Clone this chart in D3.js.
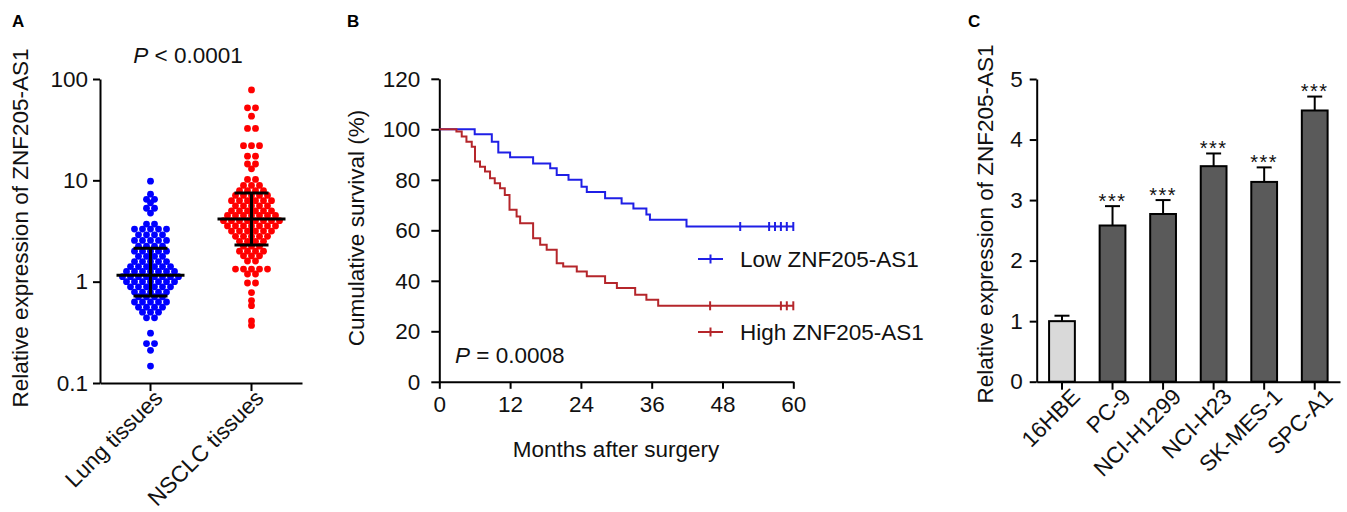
<!DOCTYPE html>
<html>
<head>
<meta charset="utf-8">
<script src="https://cdn.jsdelivr.net/npm/d3@7"></script>
<style>
  html, body { margin: 0; padding: 0; background: #fff; }
  svg { display: block; font-family: Arial, "Liberation Sans", sans-serif; }
  .axis path, .axis line { stroke: #000; stroke-width: 2; }
  .axis text { font-size: 22.5px; fill: #111; }
</style>
</head>
<body>
<svg id="chart" width="1347" height="512"></svg>
<script>
// ---------- Panel A data (relative expression, log scale) ----------
const groupsA = ["Lung tissues", "NSCLC tissues"];
const lungValues = [
  9.8, 7.3, 6.5, 6.5, 6.0, 5.3, 5.3, 4.75, 3.7, 3.7,
  3.3, 3.3, 3.3, 3.3, 3.3, 2.9, 2.9, 2.9, 2.9,
  2.55, 2.55, 2.55, 2.55, 2.55, 2.24, 2.24, 2.24, 2.24,
  2.0, 2.0, 2.0, 2.0, 2.0, 1.78, 1.78, 1.78, 1.78,
  1.58, 1.58, 1.58, 1.58, 1.58, 1.41, 1.41, 1.41, 1.41, 1.41, 1.41,
  1.26, 1.26, 1.26, 1.26, 1.26, 1.26, 1.26,
  1.12, 1.12, 1.12, 1.12, 1.12, 1.12, 1.12, 1.12,
  1.0, 1.0, 1.0, 1.0, 1.0, 1.0, 1.0,
  0.89, 0.89, 0.89, 0.89, 0.89, 0.89, 0.79, 0.79, 0.79, 0.79, 0.79,
  0.71, 0.71, 0.71, 0.71, 0.63, 0.63, 0.63, 0.63, 0.63,
  0.56, 0.56, 0.56, 0.56, 0.50, 0.50, 0.50, 0.44, 0.44,
  0.31, 0.245, 0.245, 0.21, 0.147
];
const nsclcValues = [
  78, 52, 52, 43, 32.5, 32.5, 22, 22, 22, 17.3, 17.3, 14.5, 14.5, 13.0, 10.2, 10.2,
  8.9, 8.9, 8.9, 7.9, 7.9, 7.9, 7.9, 7.1, 7.1, 7.1, 7.1, 7.1,
  6.3, 6.3, 6.3, 6.3, 6.3, 6.3, 5.6, 5.6, 5.6, 5.6, 5.6,
  5.0, 5.0, 5.0, 5.0, 5.0, 5.0, 4.5, 4.5, 4.5, 4.5, 4.5, 4.5, 4.5,
  4.0, 4.0, 4.0, 4.0, 4.0, 4.0, 4.0, 4.0,
  3.55, 3.55, 3.55, 3.55, 3.55, 3.55, 3.55, 3.16, 3.16, 3.16, 3.16, 3.16, 3.16,
  2.8, 2.8, 2.8, 2.8, 2.8, 2.5, 2.5, 2.5, 2.5, 2.24, 2.24, 2.24,
  2.0, 2.0, 2.0, 2.0, 1.8, 1.8, 1.8, 1.6, 1.6,
  1.33, 1.33, 1.33, 1.33, 1.33, 1.19, 1.19,
  0.97, 0.97, 0.78, 0.65, 0.58, 0.41, 0.37
];
// [lower quartile, median, upper quartile]
const lungStats = [0.72, 1.16, 2.14];
const nsclcStats = [2.3, 4.15, 7.5];
const ticksA = [0.1, 1, 10, 100];

// ---------- Panel B data (Kaplan-Meier) ----------
const lowMonths = [0, 6.0, 8.9, 10.0, 12.0, 15.9, 18.8, 19.9, 21.9, 24.1, 25.0, 28.1, 30.9, 32.9, 35.1, 35.7, 41.9, 60];
const lowSurv   = [100, 98.0, 95.1, 90.8, 88.9, 86.5, 84.6, 81.9, 80.0, 77.2, 75.2, 72.7, 70.6, 68.6, 66.3, 64.2, 61.5, 61.5];
const lowCensor = [51.0, 55.9, 56.9, 57.9, 58.9, 60];
const highMonths = [0, 2.9, 3.8, 4.6, 5.5, 6.05, 6.9, 7.75, 8.6, 9.4, 10.3, 11.1, 11.9, 13.1, 13.7, 15.9, 17.1, 18.2, 19.9, 21.0, 23.3, 25.0, 28.1, 30.1, 33.2, 35.1, 37.1, 60];
const highSurv   = [100, 99.1, 97.1, 95.1, 93.1, 87.2, 85.2, 83.3, 80.6, 78.6, 76.7, 74.0, 68.1, 65.5, 62.8, 56.9, 54.3, 52.3, 47.0, 45.7, 43.7, 41.8, 39.1, 37.1, 34.5, 32.5, 30.1, 30.1];
const highCensor = [45.9, 57.9, 58.9, 60];
const monthTicks = [0, 12, 24, 36, 48, 60];
const survTicks = [0, 20, 40, 60, 80, 100, 120];
const seriesNamesB = ["Low ZNF205-AS1", "High ZNF205-AS1"];

// ---------- Panel C data ----------
const cellLines = ["16HBE", "PC-9", "NCI-H1299", "NCI-H23", "SK-MES-1", "SPC-A1"];
const cellExpr  = [1.0, 2.58, 2.77, 3.56, 3.30, 4.48];
const cellErr   = [0.09, 0.32, 0.23, 0.21, 0.24, 0.23];
const cellSig   = ["", "***", "***", "***", "***", "***"];
const ticksC = [0, 1, 2, 3, 4, 5];

const svg = d3.select("#chart");
svg.append("rect").attr("width", 1347).attr("height", 512).attr("fill", "#fff");

function panelLabel(t, x, y) {
  svg.append("text").attr("x", x).attr("y", y).text(t)
    .attr("font-size", 17).attr("font-weight", "bold").attr("fill", "#000");
}
function yTitle(t, x, y) {
  svg.append("text").attr("transform", `translate(${x},${y}) rotate(-90)`)
    .attr("text-anchor", "middle").attr("font-size", 22.5).attr("fill", "#111").text(t);
}

// ================= Panel A =================
panelLabel("A", 12, 27);
const yA = d3.scaleLog().domain([0.1, 100]).range([383, 79]);
const xA = d3.scaleBand().domain(groupsA).range([100, 302]).padding(0);

const gA = svg.append("g");
gA.append("g").attr("class", "axis").attr("transform", "translate(100,0)")
  .call(d3.axisLeft(yA).tickValues(ticksA).tickFormat(d3.format("")).tickSize(7).tickPadding(5).tickSizeOuter(0));
const axA = gA.append("g").attr("class", "axis").attr("transform", "translate(0,383)")
  .call(d3.axisBottom(xA).tickSize(8).tickSizeOuter(0));
axA.selectAll("text")
  .attr("text-anchor", "end")
  .attr("transform", "translate(2,5) rotate(-45)")
  .attr("dy", "0.72em").attr("y", 0).attr("x", 0)
  .attr("font-size", 24);

function swarm(values, cx) {
  const pts = [];
  d3.groups(values, v => v).forEach(([v, arr]) => {
    const n = arr.length;
    arr.forEach((_, i) => pts.push({ v, x: cx + (i - (n - 1) / 2) * 8 }));
  });
  return pts;
}
const colorsA = ["#0000ff", "#ff0000"];
[lungValues, nsclcValues].forEach((vals, gi) => {
  const cx = xA(groupsA[gi]) + xA.bandwidth() / 2;
  gA.append("g").selectAll("circle").data(swarm(vals, cx)).join("circle")
    .attr("cx", d => d.x).attr("cy", d => yA(d.v)).attr("r", 3.4)
    .attr("fill", colorsA[gi]);
});
[lungStats, nsclcStats].forEach((st, gi) => {
  const cx = xA(groupsA[gi]) + xA.bandwidth() / 2;
  const g = gA.append("g").attr("stroke", "#000").attr("stroke-width", 3);
  g.append("line").attr("x1", cx - 34).attr("x2", cx + 34).attr("y1", yA(st[1])).attr("y2", yA(st[1]));
  g.append("line").attr("x1", cx).attr("x2", cx).attr("y1", yA(st[0])).attr("y2", yA(st[2]));
  g.append("line").attr("x1", cx - 17).attr("x2", cx + 17).attr("y1", yA(st[0])).attr("y2", yA(st[0]));
  g.append("line").attr("x1", cx - 17).attr("x2", cx + 17).attr("y1", yA(st[2])).attr("y2", yA(st[2]));
});
const pA = svg.append("text").attr("x", 188).attr("y", 63).attr("text-anchor", "middle")
  .attr("font-size", 22.5).attr("fill", "#111");
pA.append("tspan").attr("font-style", "italic").text("P");
pA.append("tspan").text(" < 0.0001");
yTitle("Relative expression of ZNF205-AS1", 28, 228);

// ================= Panel B =================
panelLabel("B", 347, 27);
const xB = d3.scaleLinear().domain([0, 60]).range([439.3, 793.3]);
const yB = d3.scaleLinear().domain([0, 120]).range([381.8, 78.8]);
const gB = svg.append("g");
gB.append("g").attr("class", "axis").attr("transform", "translate(439.3,0)")
  .call(d3.axisLeft(yB).tickValues(survTicks).tickSize(8).tickPadding(11).tickSizeOuter(0));
gB.append("g").attr("class", "axis").attr("transform", "translate(0,381.8)")
  .call(d3.axisBottom(xB).tickValues(monthTicks).tickSize(7).tickPadding(7).tickSizeOuter(0));

const lineB = d3.line().x(d => xB(d[0])).y(d => yB(d[1])).curve(d3.curveStepAfter);
const kmSeries = [
  { months: lowMonths, surv: lowSurv, censor: lowCensor, color: "#1f1fe6" },
  { months: highMonths, surv: highSurv, censor: highCensor, color: "#b5262b" }
];
kmSeries.forEach(s => {
  const pts = s.months.map((m, i) => [m, s.surv[i]]);
  gB.append("path").attr("d", lineB(pts)).attr("fill", "none")
    .attr("stroke", s.color).attr("stroke-width", 2);
  const lastS = s.surv[s.surv.length - 1];
  gB.append("g").selectAll("line").data(s.censor).join("line")
    .attr("x1", d => xB(d)).attr("x2", d => xB(d))
    .attr("y1", yB(lastS) - 4.5).attr("y2", yB(lastS) + 4.5)
    .attr("stroke", s.color).attr("stroke-width", 2);
});
// legend
[259, 332].forEach((ly, i) => {
  const s = kmSeries[i];
  gB.append("line").attr("x1", 698).attr("x2", 723).attr("y1", ly).attr("y2", ly)
    .attr("stroke", s.color).attr("stroke-width", 2);
  gB.append("line").attr("x1", 710.5).attr("x2", 710.5).attr("y1", ly - 4.5).attr("y2", ly + 4.5)
    .attr("stroke", s.color).attr("stroke-width", 2);
  gB.append("text").attr("x", 740).attr("y", ly + 8).attr("font-size", 22.5).attr("fill", "#111")
    .text(seriesNamesB[i]);
});
const pB = svg.append("text").attr("x", 455).attr("y", 363).attr("font-size", 22.5).attr("fill", "#111");
pB.append("tspan").attr("font-style", "italic").text("P");
pB.append("tspan").text(" = 0.0008");
yTitle("Cumulative survival (%)", 364, 228);
svg.append("text").attr("x", 616).attr("y", 457).attr("text-anchor", "middle")
  .attr("font-size", 22.5).attr("fill", "#111").text("Months after surgery");

// ================= Panel C =================
panelLabel("C", 968, 27);
const yC = d3.scaleLinear().domain([0, 5]).range([381.7, 79]);
const xC = d3.scaleBand().domain(cellLines).range([1036.7, 1340]).paddingInner(0.49).paddingOuter(0.245);
const gC = svg.append("g");
cellLines.forEach((c, i) => {
  const cx = xC(c) + xC.bandwidth() / 2;
  const top = yC(cellExpr[i] + cellErr[i]);
  gC.append("line").attr("x1", cx).attr("x2", cx).attr("y1", yC(cellExpr[i])).attr("y2", top)
    .attr("stroke", "#000").attr("stroke-width", 2);
  gC.append("line").attr("x1", cx - 7.5).attr("x2", cx + 7.5).attr("y1", top).attr("y2", top)
    .attr("stroke", "#000").attr("stroke-width", 2);
  if (cellSig[i]) {
    gC.append("text").attr("x", cx).attr("y", top + 1.5).attr("text-anchor", "middle")
      .attr("font-size", 20).attr("letter-spacing", "1.5px").attr("fill", "#111").text(cellSig[i]);
  }
});
gC.append("g").selectAll("rect").data(cellLines).join("rect")
  .attr("x", d => xC(d)).attr("width", xC.bandwidth())
  .attr("y", (d, i) => yC(cellExpr[i])).attr("height", (d, i) => yC(0) - yC(cellExpr[i]))
  .attr("fill", (d, i) => i === 0 ? "#d9d9d9" : "#5a5a5a")
  .attr("stroke", "#000").attr("stroke-width", 2);
gC.append("g").attr("class", "axis").attr("transform", "translate(1036.7,0)")
  .call(d3.axisLeft(yC).tickValues(ticksC).tickFormat(d3.format("d")).tickSize(7).tickPadding(7).tickSizeOuter(0));
const axC = gC.append("g").attr("class", "axis").attr("transform", "translate(0,381.7)")
  .call(d3.axisBottom(xC).tickSize(8).tickSizeOuter(0));
axC.selectAll("text")
  .attr("text-anchor", "end")
  .attr("transform", "translate(8,5) rotate(-45)")
  .attr("dy", "0.72em").attr("y", 0).attr("x", 0)
  .attr("font-size", 23);
yTitle("Relative expression of ZNF205-AS1", 993, 224);
</script>
</body>
</html>
